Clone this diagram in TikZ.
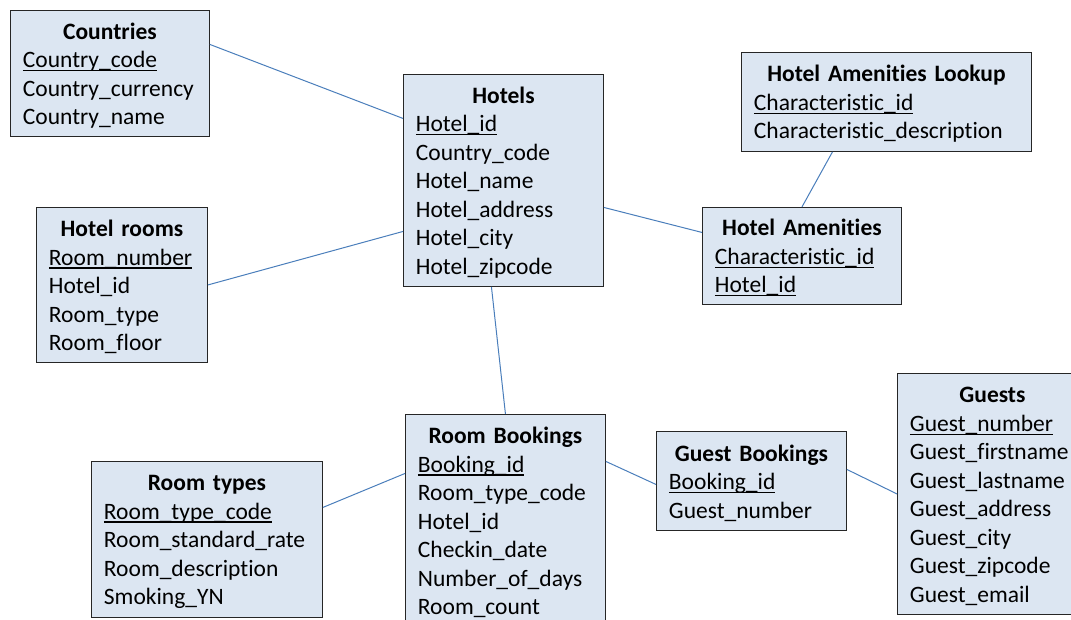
\documentclass[tikz,border=0pt]{standalone}
\usepackage{fontspec}
\setmainfont{Carlito}[Ligatures=NoCommon]
\usepackage{tikz}
\usetikzlibrary{positioning}
\definecolor{tablefill}{HTML}{DCE6F2}
\definecolor{linkblue}{HTML}{4A7EBB}
\newcommand{\pkey}[1]{\leavevmode\setbox0\hbox{#1}\rlap{\rule[-3.5pt]{\wd0}{1.3pt}}\box0}
\newcommand{\ttitle}[1]{\makebox[\linewidth]{\rule{0pt}{20.5pt}\bfseries #1}}

\begin{document}
\begin{tikzpicture}[
x=1pt, y=-1pt,
table/.style={draw=black!85, line width=0.9pt, fill=tablefill, anchor=north west, align=left, inner xsep=12.5pt, inner ysep=0pt, font=\fontsize{23.5}{28.5}\selectfont},
link/.style={draw=linkblue, line width=1pt}
]
\useasboundingbox (0,0) rectangle (1071,620);
\clip (0,0) rectangle (1071,620);

\node[table, text width=174pt, minimum height=126pt] (countries) at (10,10) {\ttitle{Countries}\\\pkey{Country\_code}\\Country\_currency\\Country\_name};
\node[table, text width=175pt, minimum height=212pt] (hotels) at (403,74) {\ttitle{Hotels}\\\pkey{Hotel\_id}\\Country\_code\\Hotel\_name\\Hotel\_address\\Hotel\_city\\Hotel\_zipcode};
\node[table, text width=265pt, minimum height=99pt] (lookup) at (741,52) {\ttitle{Hotel Amenities Lookup}\\\pkey{Characteristic\_id}\\Characteristic\_description};
\node[table, text width=146pt, minimum height=155pt] (rooms) at (36,207) {\ttitle{Hotel rooms}\\\pkey{Room\_number}\\Hotel\_id\\Room\_type\\Room\_floor};
\node[table, text width=174pt, minimum height=97pt] (amenities) at (702,207) {\ttitle{Hotel Amenities}\\\pkey{Characteristic\_id}\\\pkey{Hotel\_id}};
\node[table, text width=175pt, minimum height=212pt] (roombookings) at (405,414) {\ttitle{Room Bookings}\\\pkey{Booking\_id}\\Room\_type\_code\\Hotel\_id\\Checkin\_date\\Number\_of\_days\\Room\_count};
\node[table, text width=206pt, minimum height=156pt] (roomtypes) at (91,461) {\ttitle{Room types}\\\pkey{Room\_type\_code}\\Room\_standard\_rate\\Room\_description\\Smoking\_YN};
\node[table, text width=165pt, minimum height=99pt] (guestbookings) at (656,431) {\ttitle{Guest Bookings}\\\pkey{Booking\_id}\\Guest\_number};
\node[table, text width=165pt, minimum height=241pt] (guests) at (897,373) {\ttitle{Guests}\\\pkey{Guest\_number}\\Guest\_firstname\\Guest\_lastname\\Guest\_address\\Guest\_city\\Guest\_zipcode\\Guest\_email};

\draw[link] ([yshift=29pt]countries.east) -- ([yshift=62pt]hotels.west);
\draw[link] (rooms.east) -- ([yshift=-51pt]hotels.west);
\draw[link] ([yshift=-27pt]hotels.east) -- ([yshift=23.5pt]amenities.west);
\draw[link] ([xshift=-54pt]lookup.south) -- (amenities.north);
\draw[link] ([xshift=-12pt]hotels.south) -- (roombookings.north);
\draw[link] ([yshift=32pt]roomtypes.east) -- ([yshift=47pt]roombookings.west);
\draw[link] ([yshift=59pt]roombookings.east) -- ([yshift=-3.5pt]guestbookings.west);
\draw[link] ([yshift=11.5pt]guestbookings.east) -- (guests.west);
\end{tikzpicture}
\end{document}
